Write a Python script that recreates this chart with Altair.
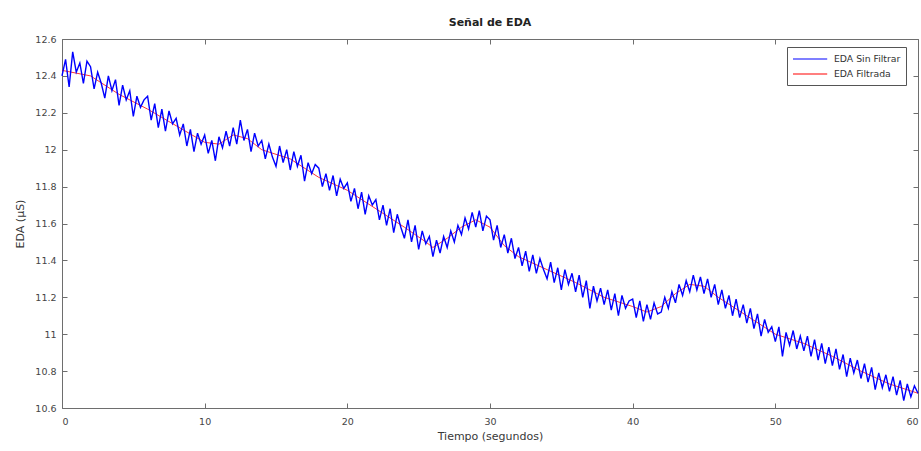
import altair as alt
import pandas as pd

eda_raw = [
    12.40, 12.49, 12.34, 12.53, 12.42, 12.47, 12.36, 12.48,
    12.45, 12.33, 12.42, 12.36, 12.28, 12.40, 12.32, 12.38,
    12.24, 12.35, 12.27, 12.32, 12.18, 12.29, 12.23, 12.27,
    12.29, 12.16, 12.25, 12.12, 12.22, 12.10, 12.21, 12.14,
    12.17, 12.08, 12.14, 12.02, 12.11, 11.99, 12.09, 12.03,
    12.08, 11.98, 12.05, 11.94, 12.07, 12.01, 12.10, 12.02,
    12.12, 12.03, 12.16, 12.05, 12.11, 11.99, 12.09, 12.02,
    12.05, 11.95, 12.03, 11.96, 11.91, 12.02, 11.93, 12.00,
    11.89, 11.99, 11.91, 11.97, 11.83, 11.93, 11.87, 11.92,
    11.90, 11.80, 11.87, 11.78, 11.86, 11.75, 11.84, 11.79,
    11.82, 11.72, 11.79, 11.68, 11.77, 11.65, 11.75, 11.70,
    11.73, 11.62, 11.70, 11.59, 11.68, 11.55, 11.65, 11.58,
    11.52, 11.62, 11.50, 11.59, 11.46, 11.56, 11.49, 11.53,
    11.42, 11.51, 11.44, 11.53, 11.47, 11.56, 11.50, 11.59,
    11.54, 11.63, 11.57, 11.66, 11.58, 11.67, 11.56, 11.64,
    11.62, 11.51, 11.59, 11.47, 11.54, 11.44, 11.52, 11.41,
    11.47, 11.37, 11.45, 11.34, 11.43, 11.33, 11.41, 11.35,
    11.30, 11.39, 11.28, 11.36, 11.24, 11.35, 11.27, 11.33,
    11.23, 11.32, 11.20, 11.29, 11.14, 11.26, 11.18, 11.25,
    11.16, 11.24, 11.13, 11.22, 11.10, 11.21, 11.14, 11.18,
    11.19, 11.09, 11.18, 11.07, 11.16, 11.08, 11.17, 11.11,
    11.12, 11.20, 11.14, 11.23, 11.17, 11.27, 11.21, 11.29,
    11.23, 11.32, 11.24, 11.31, 11.22, 11.30, 11.20, 11.27,
    11.16, 11.24, 11.14, 11.21, 11.10, 11.19, 11.09, 11.16,
    11.06, 11.14, 11.03, 11.11, 10.99, 11.08, 11.01, 11.04,
    10.96, 11.04, 10.88, 11.01, 10.94, 11.02, 10.92, 10.99,
    10.91, 10.99, 10.88, 10.97, 10.86, 10.95, 10.84, 10.93,
    10.83, 10.92, 10.81, 10.89, 10.77, 10.87, 10.79, 10.86,
    10.76, 10.84, 10.74, 10.82, 10.70, 10.79, 10.71, 10.78,
    10.69, 10.77, 10.67, 10.75, 10.64, 10.73, 10.66, 10.72,
    10.68,
]
sample_step = 0.25
t_raw = [i * sample_step for i in range(len(eda_raw))]

# Filtered EDA (smooth trend)
t_filt = [0, 2, 4, 6, 8, 10, 11, 12, 13, 14, 16, 18, 20, 22, 24, 25.5, 26, 27, 28,
          29, 30, 31, 32, 34, 36, 38, 40, 41, 42, 43, 44, 45, 46, 48, 50, 52, 54,
          56, 58, 60]
eda_filt = [12.43, 12.40, 12.30, 12.22, 12.13, 12.04, 12.03, 12.08, 12.06, 12.00,
            11.95, 11.85, 11.78, 11.68, 11.58, 11.50, 11.47, 11.52, 11.58, 11.62,
            11.58, 11.48, 11.42, 11.35, 11.28, 11.20, 11.15, 11.12, 11.15, 11.22,
            11.27, 11.26, 11.20, 11.10, 11.00, 10.95, 10.88, 10.80, 10.73, 10.68]

series_names = ["EDA Sin Filtrar", "EDA Filtrada"]
series_colors = ["#0000FF", "#FF0000"]
x_ticks = [0, 10, 20, 30, 40, 50, 60]
y_ticks = [10.6, 10.8, 11.0, 11.2, 11.4, 11.6, 11.8, 12.0, 12.2, 12.4, 12.6]

raw_df = pd.DataFrame({"t": t_raw, "eda": eda_raw})
filt_df = pd.DataFrame({"t": t_filt, "eda": eda_filt})

W, H = 856, 369
FONT = "DejaVu Sans"
AX = "#6e6e6e"
LBL = "#454545"

xs = alt.Scale(domain=[0, 60], nice=False, zero=False)
ys = alt.Scale(domain=[10.6, 12.6], nice=False, zero=False)
color = alt.Color(
    "serie:N",
    scale=alt.Scale(domain=series_names, range=series_colors),
    legend=alt.Legend(
        title=None, orient="none", legendX=725, legendY=8,
        symbolType="M-1,0L4.7,0",
        symbolStrokeWidth=1.2, symbolSize=144, labelFont=FONT, labelFontSize=9.3,
        labelColor="#333333", strokeColor="#555555", fillColor="white",
        padding=5, rowPadding=2, labelLimit=200, labelOffset=28,
    ),
)

# Axis with labels only (bottom/left)
x_lab = alt.X("t:Q", scale=xs, title="Tiempo (segundos)", axis=alt.Axis(
    values=x_ticks, ticks=False, domain=False, grid=False, labelFont=FONT,
    labelFontSize=9.5, labelColor=LBL, labelPadding=8, titleFont=FONT,
    titleFontSize=11, titleFontWeight="normal", titleColor="#383838",
    titlePadding=5))
y_lab = alt.Y("eda:Q", scale=ys, title="EDA (µS)", axis=alt.Axis(
    values=y_ticks, ticks=False, domain=False, grid=False, format="~g",
    labelFont=FONT, labelFontSize=9.5, labelColor=LBL, labelPadding=6,
    titleFont=FONT, titleFontSize=11, titleFontWeight="normal",
    titleColor="#383838", titlePadding=9))

# Inward ticks at bottom / left
x_in_bottom = alt.X("t:Q", scale=xs, title=None, axis=alt.Axis(
    orient="top", offset=-H, values=x_ticks, labels=False, ticks=True,
    tickSize=5, tickColor=AX, domainColor=AX, grid=False))
y_in_left = alt.Y("eda:Q", scale=ys, title=None, axis=alt.Axis(
    orient="right", offset=-W, values=y_ticks, labels=False, ticks=True,
    tickSize=5, tickColor=AX, domainColor=AX, grid=False))

# Inward ticks at top / right
x_in_top = alt.X("t:Q", scale=xs, title=None, axis=alt.Axis(
    orient="bottom", offset=-H, values=x_ticks, labels=False, ticks=True,
    tickSize=5, tickColor=AX, domainColor=AX, grid=False))
y_in_right = alt.Y("eda:Q", scale=ys, title=None, axis=alt.Axis(
    orient="left", offset=-W, values=y_ticks, labels=False, ticks=True,
    tickSize=5, tickColor=AX, domainColor=AX, grid=False))

filt_layer = alt.Chart(filt_df).transform_calculate(serie="'EDA Filtrada'").mark_line(
    strokeWidth=0.8).encode(x=x_in_bottom, y=y_in_left, color=color)

raw_layer = alt.Chart(raw_df).transform_calculate(serie="'EDA Sin Filtrar'").mark_line(
    strokeWidth=1.4).encode(x=x_lab, y=y_lab, color=color)

frame_layer = alt.Chart(filt_df).mark_line(opacity=0).encode(x=x_in_top, y=y_in_right)

chart = alt.layer(filt_layer, raw_layer, frame_layer).resolve_scale(
    x="shared", y="shared", color="shared"
).resolve_axis(x="independent", y="independent").properties(
    width=W, height=H,
    title=alt.TitleParams("Señal de EDA", font=FONT, fontSize=11,
                          fontWeight="bold", color="#222222", offset=6),
    autosize=alt.AutoSizeParams(type="none"),
    padding={"left": 62, "top": 39, "right": 3, "bottom": 43},
).configure_view(stroke=None).configure(background="white")

chart.save("out.html", embed_options={"renderer": "svg", "actions": False})
